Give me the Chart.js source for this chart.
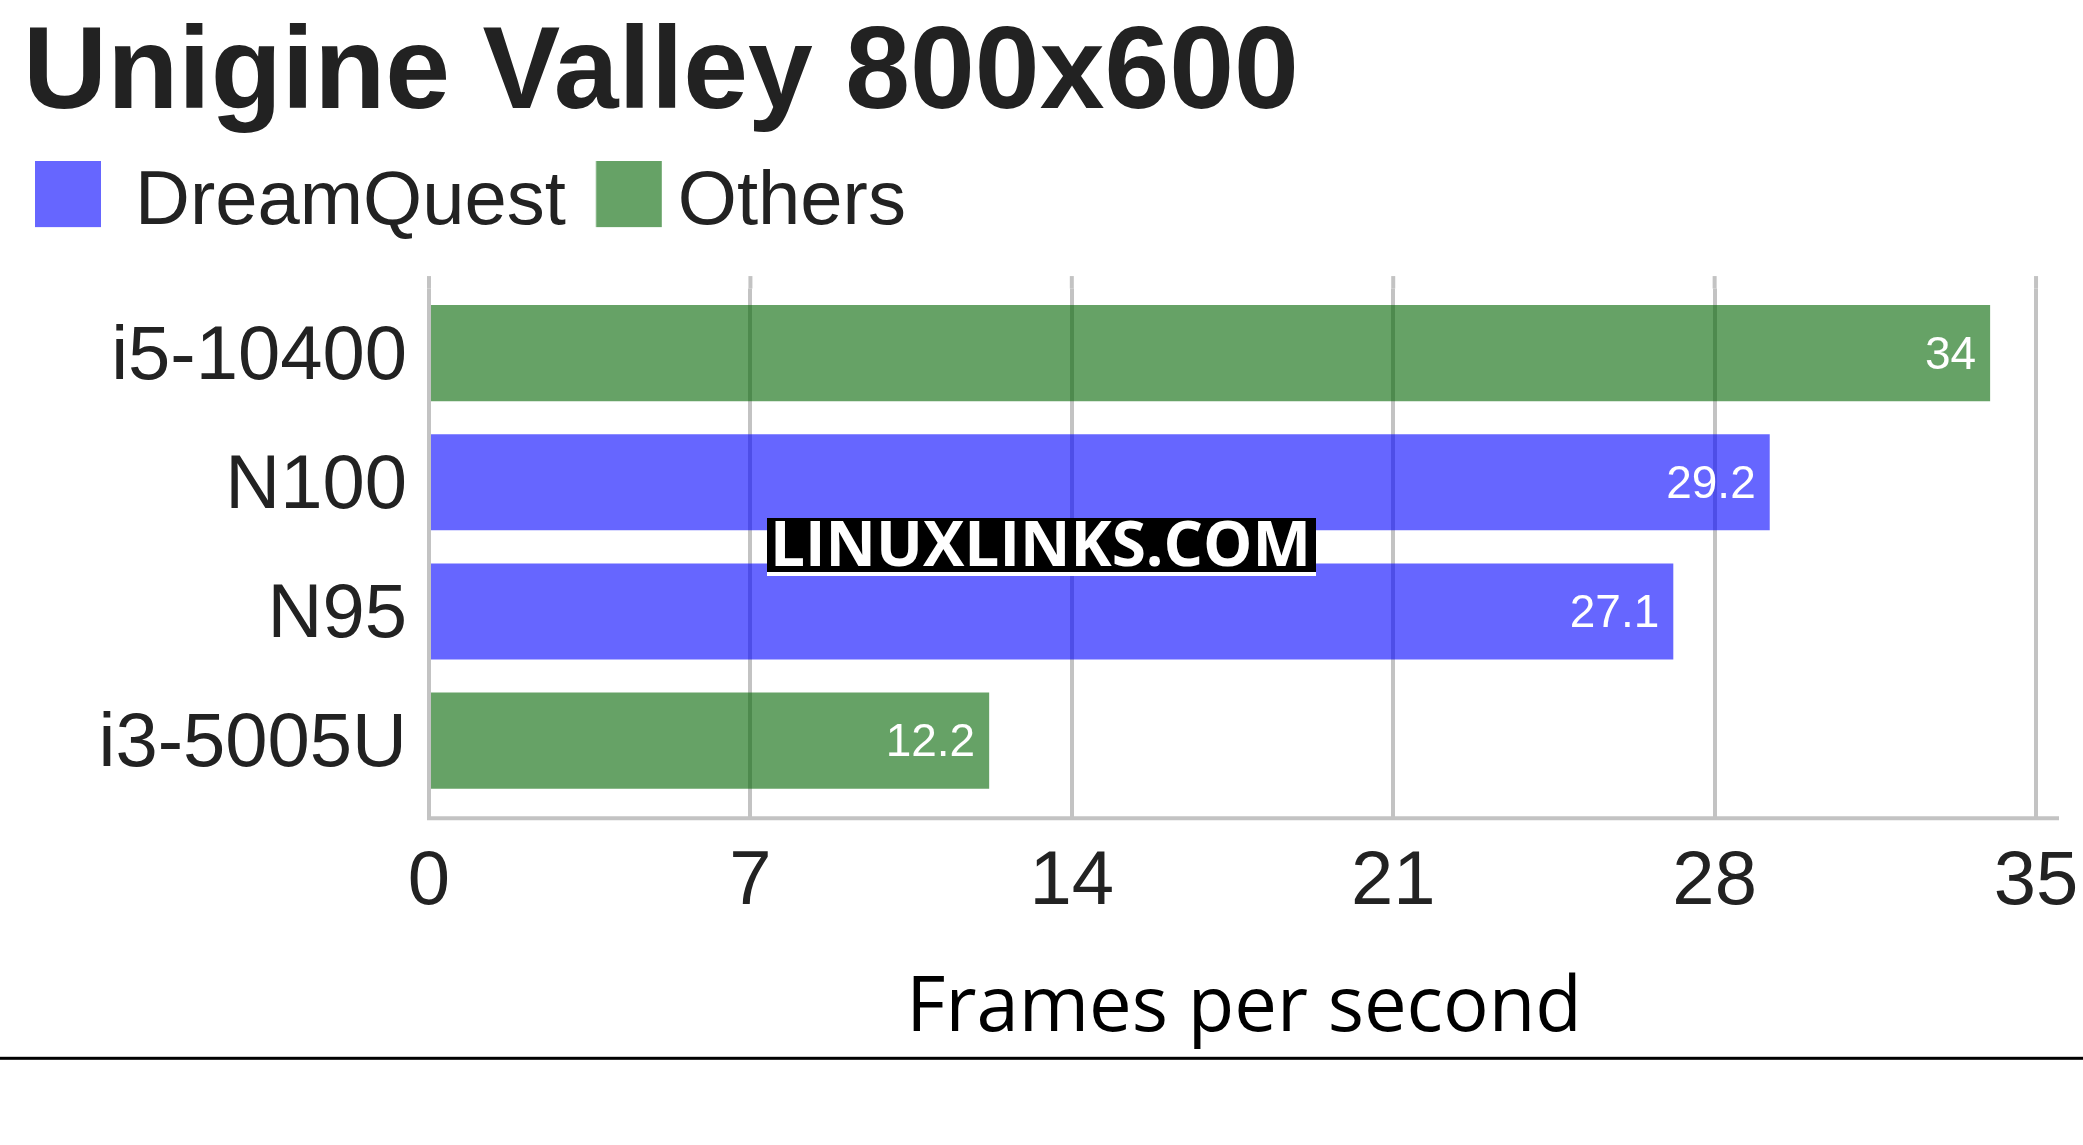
<!DOCTYPE html>
<html>
<head>
<meta charset="utf-8">
<script src="https://cdn.jsdelivr.net/npm/chart.js@4.4.1/dist/chart.umd.min.js"></script>
<style>
  html, body { margin: 0; padding: 0; background: #fff; }
  #wrap { width: 2083px; height: 1145px; position: relative; }
</style>
</head>
<body>
<div id="wrap"><canvas id="c" width="2083" height="1145"></canvas></div>
<script>
// ---- data ----
const chartTitle = 'Unigine Valley 800x600';
const axisTitle = 'Frames per second';
const categories = ['i5-10400', 'N100', 'N95', 'i3-5005U'];
const dreamQuestValues = [null, 29.2, 27.1, null];
const otherValues = [34, null, null, 12.2];
const seriesNames = ['DreamQuest', 'Others'];
const xTicks = [0, 7, 14, 21, 28, 35];
const watermarkText = 'LINUXLINKS.COM';

// ---- styles ----
const BLUE = 'rgba(0,0,255,0.6)';
const GREEN = 'rgba(0,100,0,0.6)';
const SWATCH = ['#6666ff', '#66a266'];
const GRID = '#c3c3c3';
const TEXT = '#222222';
const SANS = '"Liberation Sans", Arial, sans-serif';
const LEGEND_FONT = 76;
const LEGEND_PAD = 12;
const LEGEND_PW = 62;
const PAD_LEFT = 23;
const SWATCH_SIZE = 66;
const SWATCH_LEFT = [35, 596];   // visual left edge of each legend square
const SWATCH_DY = 8.5;           // square raised relative to label centre

function buildSwatches() {
  const m = document.createElement('canvas').getContext('2d');
  m.font = LEGEND_FONT + 'px ' + SANS;
  const imgs = [];
  let x = PAD_LEFT + LEGEND_PAD;
  seriesNames.forEach((name, i) => {
    const centre = x + LEGEND_PW / 2;
    const dx = (SWATCH_LEFT[i] + SWATCH_SIZE / 2) - centre;
    const W = SWATCH_SIZE + 2 * Math.abs(dx);
    const H = SWATCH_SIZE + 2 * SWATCH_DY;
    const cv = document.createElement('canvas');
    cv.width = Math.ceil(W); cv.height = Math.ceil(H);
    const c = cv.getContext('2d');
    c.fillStyle = SWATCH[i];
    c.fillRect(cv.width / 2 + dx - SWATCH_SIZE / 2, 0, SWATCH_SIZE, SWATCH_SIZE);
    imgs.push(cv);
    x += LEGEND_PW + LEGEND_FONT / 2 + m.measureText(name).width + LEGEND_PAD;
  });
  return imgs;
}
const swatches = buildSwatches();

const gridExtras = {
  id: 'gridExtras',
  beforeDatasetsDraw(chart) {
    const { ctx, chartArea, scales } = chart;
    const x = scales.x;
    ctx.save();
    ctx.strokeStyle = GRID;
    ctx.lineWidth = 4;
    x.ticks.forEach(t => {
      const px = x.getPixelForValue(t.value);
      ctx.beginPath();
      ctx.moveTo(px, chartArea.top - 12.5);
      ctx.lineTo(px, chartArea.top);
      ctx.stroke();
    });
    ctx.beginPath();
    ctx.moveTo(chartArea.left - 2, chartArea.bottom + 13);
    ctx.lineTo(chartArea.right, chartArea.bottom + 13);
    ctx.stroke();
    ctx.restore();
  }
};

const barLabels = {
  id: 'barLabels',
  afterDatasetsDraw(chart) {
    const { ctx } = chart;
    ctx.save();
    ctx.fillStyle = '#ffffff';
    ctx.font = '46px ' + SANS;
    ctx.textAlign = 'right';
    ctx.textBaseline = 'middle';
    chart.data.datasets.forEach((ds, di) => {
      const meta = chart.getDatasetMeta(di);
      meta.data.forEach((el, i) => {
        const v = ds.data[i];
        if (v === null || v === undefined) return;
        ctx.fillText(String(v), el.x - 14, el.y + 3);
      });
    });
    ctx.restore();
  }
};

const decorations = {
  id: 'decorations',
  afterDraw(chart) {
    const { ctx } = chart;
    ctx.save();
    ctx.fillStyle = '#000000';
    ctx.fillRect(767, 518, 549, 54);
    ctx.fillStyle = '#ffffff';
    ctx.fillRect(767, 572, 549, 4);
    ctx.font = 'bold 62px "Open Sans", sans-serif';
    ctx.textBaseline = 'alphabetic';
    ctx.textAlign = 'left';
    const w = ctx.measureText(watermarkText).width;
    ctx.translate(770, 565.7);
    ctx.scale(541 / w, 1);
    ctx.fillText(watermarkText, 0, 0);
    ctx.restore();
    ctx.save();
    ctx.fillStyle = '#000000';
    ctx.fillRect(0, 1056.8, chart.width, 3);
    ctx.restore();
  }
};

new Chart(document.getElementById('c'), {
  type: 'bar',
  data: {
    labels: categories,
    datasets: [
      { label: seriesNames[0], data: dreamQuestValues, backgroundColor: BLUE, borderWidth: 0 },
      { label: seriesNames[1], data: otherValues, backgroundColor: GREEN, borderWidth: 0 }
    ]
  },
  options: {
    indexAxis: 'y',
    responsive: false,
    devicePixelRatio: 1,
    animation: false,
    grouped: false,
    categoryPercentage: 1,
    barPercentage: 0.744,
    layout: { padding: { left: PAD_LEFT, right: 24, top: 0, bottom: 0 }, autoPadding: false },
    plugins: {
      title: {
        display: true, text: chartTitle, align: 'start', color: TEXT,
        font: { family: SANS, size: 116.5, weight: 'bold', lineHeight: 1.18 },
        padding: { top: 7, bottom: 8.1 }
      },
      legend: {
        display: true, position: 'top', align: 'start',
        labels: {
          color: TEXT, usePointStyle: true, pointStyleWidth: LEGEND_PW,
          boxWidth: SWATCH_SIZE, boxHeight: SWATCH_SIZE, padding: LEGEND_PAD,
          font: { family: SANS, size: LEGEND_FONT },
          generateLabels(chart) {
            return chart.data.datasets.map((ds, i) => ({
              text: ds.label,
              fillStyle: SWATCH[i],
              strokeStyle: SWATCH[i],
              lineWidth: 0,
              pointStyle: swatches[i],
              hidden: !chart.isDatasetVisible(i),
              datasetIndex: i,
              fontColor: TEXT
            }));
          }
        }
      },
      subtitle: {
        display: true, text: '', weight: 500,
        font: { size: 10, lineHeight: 1 },
        padding: { top: 0, bottom: 28 }
      },
      tooltip: { enabled: false }
    },
    scales: {
      x: {
        type: 'linear', position: 'bottom', min: 0, max: 35.5,
        grid: { color: GRID, lineWidth: 4, drawTicks: true, tickLength: 13, tickColor: GRID },
        border: { display: false },
        ticks: {
          color: TEXT, padding: 19.6, maxRotation: 0, autoSkip: false,
          font: { family: SANS, size: 76, lineHeight: 1.2 }
        },
        title: {
          display: true, text: axisTitle, color: '#000000',
          font: { family: '"Open Sans", sans-serif', size: 76, lineHeight: 1.2 },
          padding: { top: 0, bottom: 90.5 }
        },
        afterBuildTicks(scale) { scale.ticks = xTicks.map(v => ({ value: v })); },
        afterFit(scale) {
          scale.height = 339.8;
          scale.paddingLeft = 0; scale.paddingRight = 0;
        }
      },
      y: {
        type: 'category',
        grid: { display: false, drawTicks: false },
        border: { display: false },
        ticks: { color: TEXT, padding: 22, labelOffset: 4.5, font: { family: SANS, size: 76 } },
        afterFit(scale) {
          scale.width = 406;
          scale.paddingTop = 0; scale.paddingBottom = 0;
        }
      }
    }
  },
  plugins: [gridExtras, barLabels, decorations]
});
</script>
</body>
</html>
